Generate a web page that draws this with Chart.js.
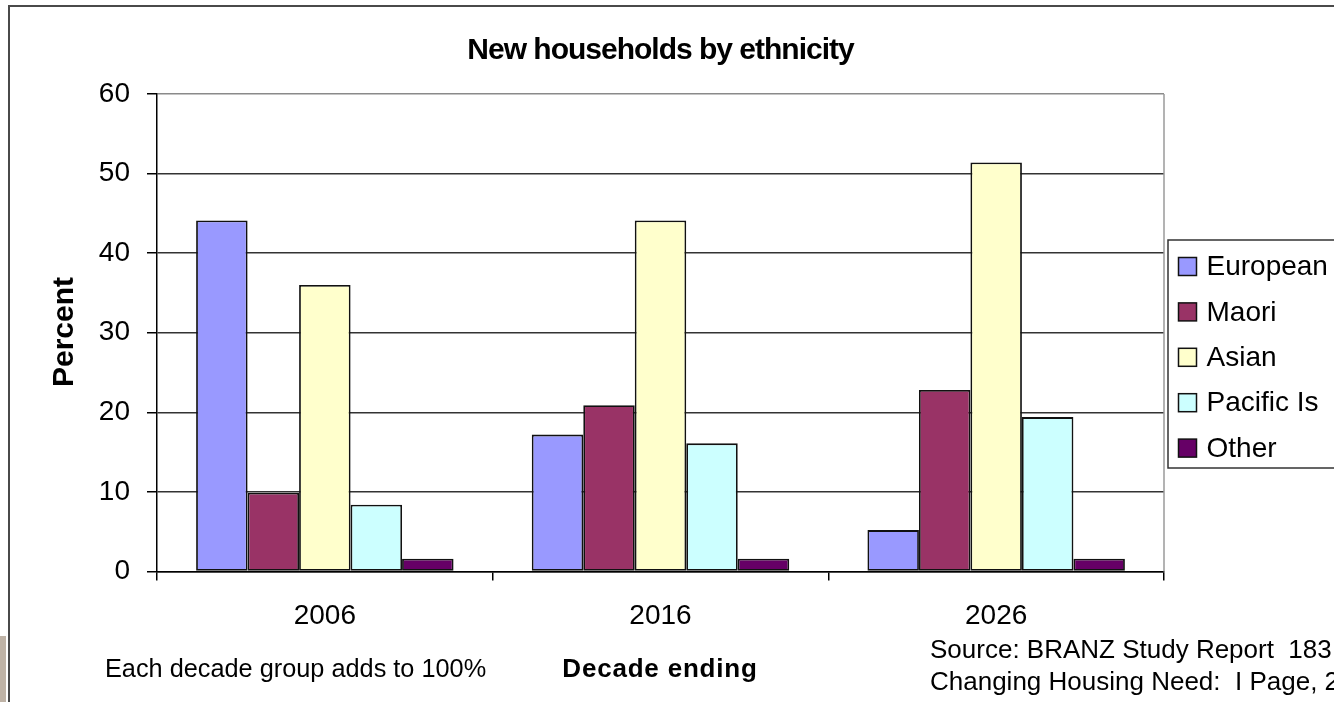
<!DOCTYPE html>
<html>
<head>
<meta charset="utf-8">
<script src="https://cdn.jsdelivr.net/npm/chart.js@4/dist/chart.umd.min.js"></script>
<style>
  html, body { margin: 0; padding: 0; background: #ffffff; overflow: hidden; }
  #wrap { width: 1334px; height: 702px; position: relative; }
  canvas { display: block; }
</style>
</head>
<body>
<div id="wrap"><canvas id="c" width="1334" height="702"></canvas></div>
<script>
// ---- data ----
const categories = ['2006', '2016', '2026'];
const seriesNames = ['European', 'Maori', 'Asian', 'Pacific Is', 'Other'];
const european = [44.1, 17.2, 5.2];
const maori    = [9.9, 20.9, 22.8];
const asian    = [36.0, 44.1, 51.4];
const pacific  = [8.4, 16.1, 19.4];
const other    = [1.6, 1.6, 1.6];
const yMin = 0, yMax = 60, yStep = 10;

const titleText = 'New households by ethnicity';
const yTitle = 'Percent';
const xTitle = 'Decade ending';
const noteText = 'Each decade group adds to 100%';
const sourceLines = ['Source: BRANZ Study Report  183', 'Changing Housing Need:  I Page, 2007'];

const colors = ['#9999FF', '#993366', '#FFFFCC', '#CCFFFF', '#660066'];
const FONT = "'Liberation Sans', Arial, sans-serif";

const seriesValues = [european, maori, asian, pacific, other];
const datasets = seriesNames.map((name, i) => ({
  label: name,
  data: seriesValues[i],
  backgroundColor: colors[i],
  borderColor: '#111111',
  borderWidth: 1.8,
  borderSkipped: false,
  categoryPercentage: 0.767,
  barPercentage: 1.0
}));

const decorPlugin = {
  id: 'decor',
  afterDraw(chart) {
    const ctx = chart.ctx;
    const ca = chart.chartArea;
    ctx.save();

    // plot area right border (light gray)
    ctx.strokeStyle = '#9a9a9a';
    ctx.lineWidth = 1.5;
    ctx.beginPath();
    ctx.moveTo(ca.right, ca.top);
    ctx.lineTo(ca.right, ca.bottom);
    ctx.stroke();

    // outer frame
    ctx.strokeStyle = '#4a4a4a';
    ctx.lineWidth = 2;
    ctx.strokeRect(9, 6, 1400, 800);

    // photo fragment at far left
    ctx.fillStyle = '#bfb3a6';
    ctx.fillRect(0, 636, 6, 66);

    ctx.fillStyle = '#000';
    // title
    ctx.font = 'bold 30px ' + FONT;
    ctx.textAlign = 'center';
    ctx.textBaseline = 'alphabetic';
    if ('letterSpacing' in ctx) ctx.letterSpacing = '-1px';
    ctx.fillText(titleText, (ca.left + ca.right) / 2, 59);
    if ('letterSpacing' in ctx) ctx.letterSpacing = '0px';

    // y title
    ctx.save();
    ctx.translate(72.5, 332);
    ctx.rotate(-Math.PI / 2);
    ctx.font = 'bold 30px ' + FONT;
    ctx.textAlign = 'center';
    ctx.fillText(yTitle, 0, 0);
    ctx.restore();

    // x title
    ctx.font = 'bold 26px ' + FONT;
    ctx.textAlign = 'center';
    if ('letterSpacing' in ctx) ctx.letterSpacing = '0.8px';
    ctx.fillText(xTitle, 660, 677);
    if ('letterSpacing' in ctx) ctx.letterSpacing = '0px';

    // note
    ctx.font = '25.3px ' + FONT;
    ctx.textAlign = 'left';
    ctx.fillText(noteText, 105, 677);

    // source
    ctx.font = '26px ' + FONT;
    ctx.fillText(sourceLines[0], 930, 658);
    ctx.fillText(sourceLines[1], 930, 690);

    // legend
    const lx = 1168, ly = 240, lh = 228;
    ctx.fillStyle = '#ffffff';
    ctx.fillRect(lx, ly, 200, lh);
    ctx.strokeStyle = '#333333';
    ctx.lineWidth = 1.5;
    ctx.strokeRect(lx, ly, 200, lh);
    ctx.font = '28px ' + FONT;
    ctx.textBaseline = 'middle';
    chart.data.datasets.forEach((ds, i) => {
      const cy = 266.5 + i * 45.4;
      ctx.fillStyle = ds.backgroundColor;
      ctx.fillRect(1178.5, cy - 9, 18, 18);
      ctx.strokeStyle = '#111';
      ctx.lineWidth = 1.5;
      ctx.strokeRect(1178.5, cy - 9, 18, 18);
      ctx.fillStyle = '#000';
      ctx.textAlign = 'left';
      ctx.fillText(ds.label, 1206.5, cy + 1);
    });

    ctx.restore();
  }
};

new Chart(document.getElementById('c'), {
  type: 'bar',
  data: { labels: categories, datasets },
  options: {
    responsive: false,
    animation: false,
    devicePixelRatio: 1,
    layout: { padding: { top: 94, right: 170, left: 0, bottom: 0 } },
    plugins: {
      legend: { display: false },
      title: { display: false },
      tooltip: { enabled: false }
    },
    scales: {
      x: {
        offset: true,
        grid: {
          display: true,
          drawOnChartArea: false,
          drawTicks: true,
          tickLength: 9,
          offset: true,
          color: '#000',
          tickColor: '#000',
          lineWidth: 1.5
        },
        border: { display: true, color: '#000', width: 1.5 },
        ticks: { color: '#000', font: { family: FONT, size: 28 }, padding: 19, maxRotation: 0 },
        afterFit(scale) { scale.height = 130.5; }
      },
      y: {
        min: yMin,
        max: yMax,
        ticks: { stepSize: yStep, color: '#000', font: { family: FONT, size: 28 }, padding: 17 },
        grid: {
          color: (c) => (c.tick && c.tick.value === yMax ? '#8a8a8a' : '#333333'),
          lineWidth: 1.5,
          tickLength: 10,
          tickColor: '#000'
        },
        border: { display: true, color: '#000', width: 1.5 },
        afterFit(scale) { scale.width = 157; }
      }
    }
  },
  plugins: [decorPlugin]
});
</script>
</body>
</html>
